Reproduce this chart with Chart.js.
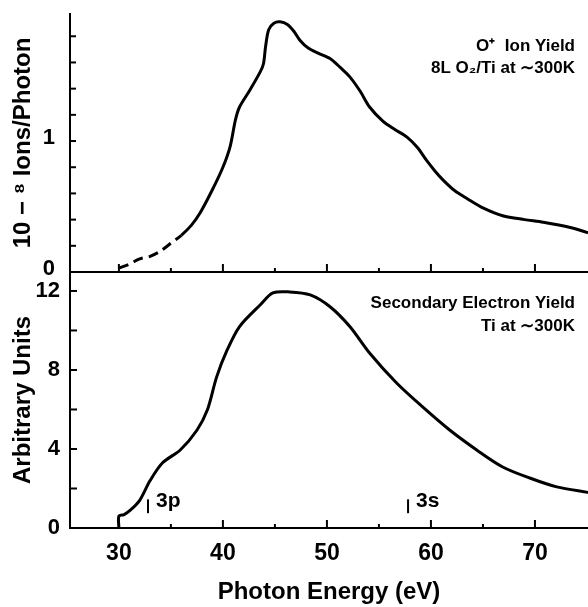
<!DOCTYPE html>
<html>
<head>
<meta charset="utf-8">
<script src="https://cdn.jsdelivr.net/npm/chart.js@4.4.0/dist/chart.umd.min.js"></script>
<style>
html,body{margin:0;padding:0;background:#fff;}
#wrap{width:588px;height:607px;position:relative;}
canvas{display:block;}
</style>
</head>
<body>
<div id="wrap"><canvas id="c" width="588" height="607"></canvas></div>
<script>
// ---- data ----
const ionEnergy = [30, 31, 32, 33, 34, 35, 36, 37, 37.8, 39, 40, 40.7, 41.2, 41.6, 42.6, 43.6, 43.9, 44.1, 44.4, 44.9, 45.5, 46.2, 46.8, 47.4, 48.2, 49.2, 50.3, 51.3, 52.2, 53.2, 54.1, 55.4, 56.5, 57.7, 58.7, 59.6, 60.4, 61.2, 62.3, 63.5, 65, 66.9, 69, 70.8, 73.4, 75.1];
const ionYield  = [0.03, 0.06, 0.10, 0.12, 0.16, 0.22, 0.28, 0.36, 0.45, 0.63, 0.80, 0.96, 1.16, 1.26, 1.39, 1.53, 1.59, 1.72, 1.85, 1.90, 1.91, 1.89, 1.84, 1.77, 1.71, 1.67, 1.63, 1.56, 1.49, 1.38, 1.26, 1.15, 1.09, 1.03, 0.95, 0.85, 0.77, 0.70, 0.62, 0.56, 0.49, 0.43, 0.40, 0.38, 0.34, 0.30];
const ionDashedUntil = 36;

const seyEnergy = [30, 30, 30.5, 31.1, 32, 33, 34.2, 35.9, 37.5, 38.5, 39.4, 40.4, 41.6, 43.6, 44.8, 46.4, 48.4, 50.3, 52.2, 54.1, 56.7, 59.2, 61.8, 64.4, 66.9, 69.5, 72.1, 75.1];
const seyYield  = [0, 0.6, 0.68, 0.9, 1.4, 2.4, 3.3, 3.95, 4.95, 5.97, 7.65, 9.0, 10.2, 11.3, 11.9, 11.95, 11.8, 11.2, 10.2, 8.86, 7.34, 6.13, 4.96, 3.95, 3.09, 2.53, 2.08, 1.8];

const markerEnergy = [32.8, 57.8];
const markerLabel  = ['3p', '3s'];
const markerSpan   = [0.75, 1.45];

const xTickLabels   = [30, 40, 50, 60, 70];
const ionTickLabels = [0, 1];
const seyTickLabels = [0, 4, 8, 12];

const ionNote = ['O\u207A  Ion Yield', '8L O\u2082/Ti at \u223C300K'];
const seyNote = ['Secondary Electron Yield', 'Ti at \u223C300K'];

const xTitle   = 'Photon Energy (eV)';
const ionTitle = '10 \u2212 \u2078 Ions/Photon';
const seyTitle = 'Arbitrary Units';

// ---- styling ----
const FONT = '"Liberation Sans", Arial, Helvetica, sans-serif';
const BLACK = '#000';

function isIn(list, v) { return list.some(t => Math.abs(t - v) < 1e-6); }
function noPad(s) { s.paddingLeft = 0; s.paddingRight = 0; s.paddingTop = 0; s.paddingBottom = 0; }

const ticksAndNotes = {
  id: 'ticksAndNotes',
  afterDraw(chart) {
    const {ctx, chartArea} = chart;
    const x = chart.scales.x, yIon = chart.scales.yIon, ySey = chart.scales.ySey;
    ctx.save();
    ctx.strokeStyle = BLACK;
    ctx.lineWidth = 2;
    const seg = (x1, y1, x2, y2) => { ctx.beginPath(); ctx.moveTo(x1, y1); ctx.lineTo(x2, y2); ctx.stroke(); };

    const baseIon = yIon.getPixelForValue(0);
    const baseSey = ySey.getPixelForValue(0);
    seg(chartArea.left, baseIon, chartArea.right, baseIon);

    x.ticks.forEach(t => {
      const px = x.getPixelForValue(t.value);
      if (px > chartArea.right - 3 || px < chartArea.left + 3) return;
      const len = isIn(xTickLabels, t.value) ? 8 : 4;
      seg(px, baseIon, px, baseIon - len);
      seg(px, baseSey, px, baseSey - len);
    });
    yIon.ticks.forEach(t => {
      const py = yIon.getPixelForValue(t.value);
      seg(chartArea.left, py, chartArea.left + 6, py);
    });
    ySey.ticks.forEach(t => {
      const py = ySey.getPixelForValue(t.value);
      seg(chartArea.left, py, chartArea.left + 7, py);
    });

    ctx.fillStyle = BLACK;
    ctx.font = 'bold 17px ' + FONT;
    ctx.textAlign = 'right';
    ctx.textBaseline = 'alphabetic';
    const rx = chartArea.right - 13;
    ionNote.forEach((s, i) => ctx.fillText(s, rx, yIon.top + 37 + i * 22));
    seyNote.forEach((s, i) => ctx.fillText(s, rx, ySey.top + 36 + i * 23));

    ctx.font = 'bold 21px ' + FONT;
    ctx.textAlign = 'left';
    markerEnergy.forEach((e, i) => {
      const px = x.getPixelForValue(e);
      ctx.fillText(markerLabel[i], px + 8, ySey.getPixelForValue(0) - 21);
    });
    ctx.restore();
  }
};

const datasets = [
  {
    data: ionEnergy.map((e, i) => ({x: e, y: ionYield[i]})),
    xAxisID: 'x', yAxisID: 'yIon',
    borderColor: BLACK, borderWidth: 3, tension: 0.3, pointRadius: 0, fill: false,
    segment: { borderDash: c => (c.p1.parsed.x <= ionDashedUntil + 1e-9 ? [10, 6] : undefined) }
  },
  {
    data: seyEnergy.map((e, i) => ({x: e, y: seyYield[i]})),
    xAxisID: 'x', yAxisID: 'ySey',
    borderColor: BLACK, borderWidth: 3, tension: 0.3, pointRadius: 0, fill: false
  }
];
markerEnergy.forEach(e => {
  datasets.push({
    data: markerSpan.map(v => ({x: e, y: v})),
    xAxisID: 'x', yAxisID: 'ySey',
    borderColor: BLACK, borderWidth: 2, tension: 0, pointRadius: 0, fill: false
  });
});

const tickFont = {family: FONT, size: 22, weight: 'bold'};

new Chart(document.getElementById('c'), {
  type: 'line',
  data: { datasets },
  plugins: [ticksAndNotes],
  options: {
    responsive: false,
    animation: false,
    devicePixelRatio: 1,
    layout: { padding: {top: 14, right: 0, bottom: 0, left: 0} },
    plugins: { legend: {display: false}, tooltip: {enabled: false} },
    elements: { point: {radius: 0} },
    scales: {
      x: {
        type: 'linear', position: 'bottom', min: 25.3, max: 75.1,
        afterFit: s => { s.height = 79; noPad(s); },
        grid: { display: false, drawTicks: false },
        border: { display: true, color: BLACK, width: 2 },
        ticks: {
          stepSize: 5, includeBounds: false, autoSkip: false, maxRotation: 0, padding: 12,
          color: BLACK, font: {family: FONT, size: 23, weight: 'bold'},
          callback: v => (isIn(xTickLabels, v) ? String(v) : '')
        },
        title: { display: true, text: xTitle, color: BLACK, font: {family: FONT, size: 24, weight: 'bold'}, padding: {top: 0, bottom: 0} }
      },
      ySey: {
        type: 'linear', position: 'left', stack: 'panels', stackWeight: 256,
        min: 0, max: 12.96,
        afterFit: s => { s.width = 70; noPad(s); },
        grid: { display: false, drawTicks: false },
        border: { display: true, color: BLACK, width: 2 },
        ticks: {
          stepSize: 2, includeBounds: false, autoSkip: false, padding: 10,
          color: BLACK, font: tickFont,
          callback: v => (isIn(seyTickLabels, v) ? String(Math.round(v)) : '')
        },
        title: { display: true, text: seyTitle, color: BLACK, font: {family: FONT, size: 24, weight: 'bold'}, padding: {top: 9, bottom: 0} }
      },
      yIon: {
        type: 'linear', position: 'left', stack: 'panels', stackWeight: 258,
        min: 0, max: 1.97,
        afterFit: s => { s.width = 70; noPad(s); },
        grid: { display: false, drawTicks: false },
        border: { display: true, color: BLACK, width: 2 },
        ticks: {
          stepSize: 0.2, includeBounds: false, autoSkip: false, padding: 15, labelOffset: -3,
          color: BLACK, font: tickFont,
          callback: v => (isIn(ionTickLabels, v) ? String(Math.round(v)) : '')
        },
        title: { display: true, text: ionTitle, color: BLACK, font: {family: FONT, size: 24, weight: 'bold'}, padding: {top: 9, bottom: 0} }
      }
    }
  }
});
</script>
</body>
</html>
